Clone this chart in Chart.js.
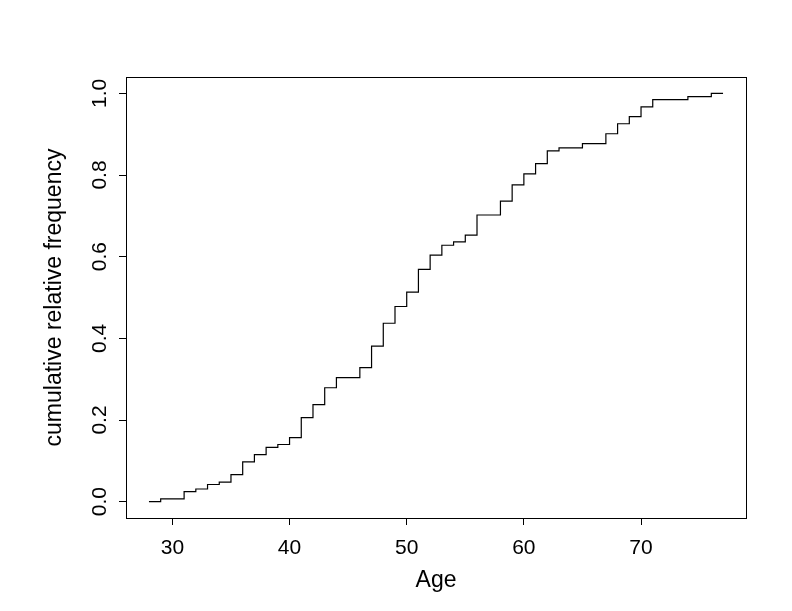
<!DOCTYPE html>
<html>
<head>
<meta charset="utf-8">
<script src="https://cdn.jsdelivr.net/npm/chart.js@4"></script>
<style>
  body { margin: 0; background: #fff; }
</style>
</head>
<body>
<canvas id="myChart" width="792" height="611"></canvas>
<script>
// ages where the cumulative relative frequency steps
const ages = [28, 29, 31, 32, 33, 34, 35, 36, 37, 38, 39, 40, 41, 42, 43, 44, 46, 47, 48, 49,
              50, 51, 52, 53, 54, 55, 56, 58, 59, 60, 61, 62, 63, 65, 67, 68, 69, 70, 71, 74, 76, 77];
const cumFreq = [0, 0.0066, 0.0246, 0.031, 0.042, 0.048, 0.066, 0.0975, 0.115, 0.133, 0.140, 0.157,
                 0.2056, 0.2376, 0.279, 0.304, 0.3285, 0.381, 0.437, 0.478, 0.513, 0.569, 0.604,
                 0.628, 0.636, 0.653, 0.702, 0.736, 0.7757, 0.8027, 0.828, 0.859, 0.8666, 0.877,
                 0.901, 0.9255, 0.943, 0.967, 0.9845, 0.992, 1.0, 1.0];
const xTicks = [30, 40, 50, 60, 70];
const yTicks = [0, 0.2, 0.4, 0.6, 0.8, 1.0];

const fontFamily = "'Liberation Sans', Arial, sans-serif";
const ctx = document.getElementById("myChart").getContext('2d');

// R style box round the plot region
const boxPlugin = {
    id: 'box',
    afterDraw(chart) {
        const { ctx, chartArea: a } = chart;
        ctx.save();
        ctx.strokeStyle = '#000';
        ctx.lineWidth = 1;
        ctx.strokeRect(Math.round(a.left) + 0.5, Math.round(a.top) + 0.5,
                       Math.round(a.right - a.left), Math.round(a.bottom - a.top));
        ctx.restore();
    }
};

const myChart = new Chart(ctx, {
    type: 'line',
    data: {
        datasets: [{
            data: ages.map((a, i) => ({ x: a, y: cumFreq[i] })),
            borderColor: '#000',
            borderWidth: 1.2,
            pointRadius: 0,
            stepped: 'before',
            fill: false,
        }]
    },
    options: {
        responsive: false,
        animation: false,
        layout: { padding: { left: 0, right: 46, top: 77, bottom: 0 } },
        plugins: {
            legend: { display: false },
            tooltip: { enabled: false },
        },
        scales: {
            x: {
                type: 'linear',
                min: 26.04,
                max: 78.96,
                afterBuildTicks: scale => { scale.ticks = xTicks.map(v => ({ value: v })); },
                afterFit: scale => { scale.height = 93; },
                grid: { drawOnChartArea: false, drawTicks: true, tickLength: 7, color: '#000' },
                border: { display: false },
                ticks: { color: '#000', padding: 11, maxRotation: 0, font: { family: fontFamily, size: 21 } },
                title: { display: true, text: 'Age', color: '#000', padding: { top: 0, bottom: 17 },
                         font: { family: fontFamily, size: 23 } },
            },
            y: {
                min: -0.04,
                max: 1.04,
                afterBuildTicks: scale => { scale.ticks = yTicks.map(v => ({ value: v })); },
                afterFit: scale => { scale.width = 126; },
                grid: { drawOnChartArea: false, drawTicks: true, tickLength: 7, color: '#000' },
                border: { display: false },
                ticks: { color: '#000', padding: 4, minRotation: 90, maxRotation: 90, crossAlign: 'center',
                         font: { family: fontFamily, size: 21 },
                         callback: v => v.toFixed(1) },
                title: { display: true, text: 'cumulative relative frequency', color: '#000',
                         padding: { top: 41, bottom: 0 }, font: { family: fontFamily, size: 23 } },
            },
        },
    },
    plugins: [boxPlugin]
});
</script>
</body>
</html>
